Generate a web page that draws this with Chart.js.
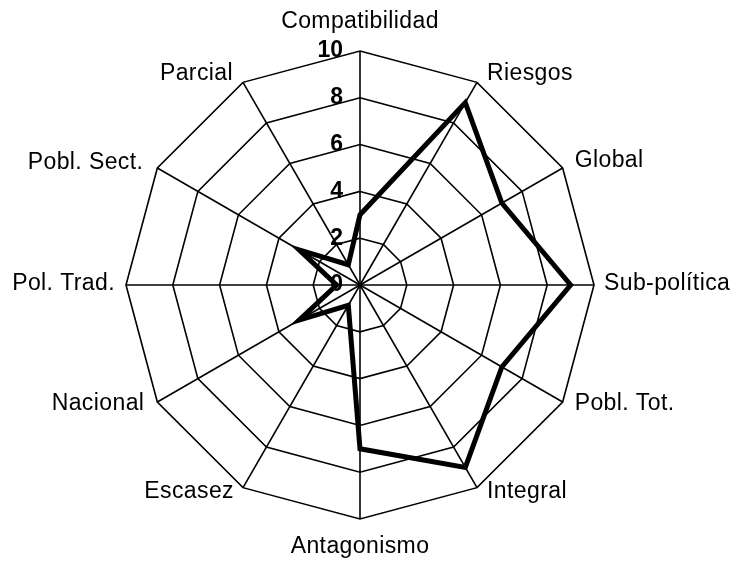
<!DOCTYPE html>
<html><head><meta charset="utf-8">
<script src="https://cdn.jsdelivr.net/npm/chart.js@4"></script>
<style>html,body{margin:0;padding:0;background:#fff;}#wrap{width:738px;height:564px;}</style>
</head><body><div id="wrap"><canvas id="c" width="738" height="564"></canvas></div>
<script>
const categories = ['Compatibilidad','Riesgos','Global','Sub-política','Pobl. Tot.','Integral','Antagonismo','Escasez','Nacional','Pol. Trad.','Pobl. Sect.','Parcial'];
const values = [3, 9, 7, 9, 7, 9, 7, 1, 3, 1, 3, 1];
const tickValues = [0, 2, 4, 6, 8, 10];
const tickLabels = ['0', '2', '4', '6', '8', '10'];

const FONT = '"Liberation Sans", Arial, sans-serif';

const textPlugin = {
  id: 'textPlugin',
  afterDraw(chart) {
    const s = chart.scales.r;
    const ctx = chart.ctx;
    ctx.save();
    ctx.fillStyle = '#000';
    // tick labels
    ctx.font = 'bold 23px ' + FONT;
    ctx.textAlign = 'right';
    ctx.textBaseline = 'middle';
    tickValues.forEach((v, k) => {
      const d = s.getDistanceFromCenterForValue(v);
      ctx.fillText(tickLabels[k], s.xCenter - 17, s.yCenter - d);
    });
    // point labels
    ctx.font = '23px ' + FONT;
    if ('letterSpacing' in ctx) ctx.letterSpacing = '0.4px';
    const n = categories.length;
    const gapX = {30: 10, 60: 12, 90: 10, 120: 12, 150: 10, 210: 9, 240: 13, 270: 11, 300: 14, 330: 10};
    const dY = {30: -9, 60: -7, 90: -1, 120: 2, 150: 4, 210: 4, 240: 2, 270: -1, 300: -5, 330: -9};
    categories.forEach((lab, i) => {
      const p = s.getPointPosition(i, s.drawingArea);
      const deg = Math.round(i * 360 / n);
      let x = p.x, y = p.y, align, base = 'middle';
      if (deg === 0) { align = 'center'; base = 'alphabetic'; y -= 23; }
      else if (deg === 180) { align = 'center'; base = 'alphabetic'; y += 34; }
      else {
        align = deg < 180 ? 'left' : 'right';
        x += deg < 180 ? gapX[deg] : -gapX[deg];
        y += dY[deg];
      }
      ctx.textAlign = align;
      ctx.textBaseline = base;
      ctx.fillText(lab, x, y);
    });
    ctx.restore();
  }
};

new Chart(document.getElementById('c'), {
  type: 'radar',
  data: {
    labels: categories,
    datasets: [{
      data: values,
      borderColor: '#000',
      borderWidth: 5,
      borderJoinStyle: 'miter',
      fill: false,
      pointRadius: 0,
      pointHoverRadius: 0,
      tension: 0
    }]
  },
  options: {
    responsive: false,
    animation: false,
    devicePixelRatio: 1,
    layout: { padding: { left: 126, right: 144, top: 51, bottom: 45 } },
    plugins: { legend: { display: false }, tooltip: { enabled: false } },
    scales: {
      r: {
        min: 0,
        max: 10,
        ticks: { stepSize: 2, display: false },
        grid: { color: '#000', lineWidth: 1.6 },
        angleLines: { color: '#000', lineWidth: 1.6 },
        pointLabels: { display: false }
      }
    }
  },
  plugins: [textPlugin]
});
</script>
</body></html>
